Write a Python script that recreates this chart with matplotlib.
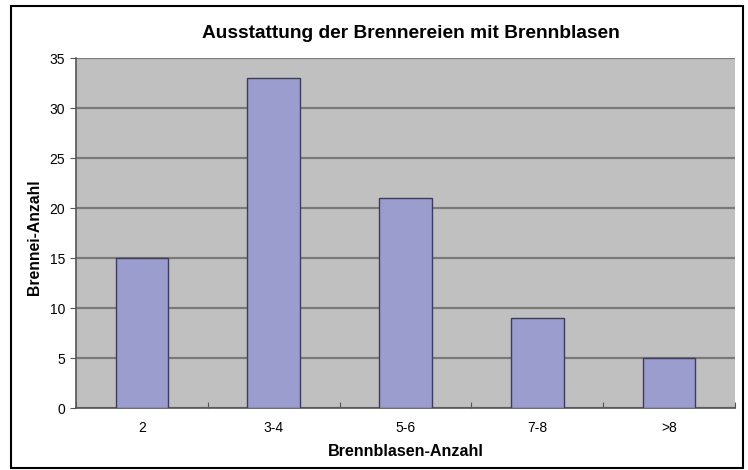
import matplotlib.pyplot as plt
from matplotlib.patches import Rectangle

plt.rcParams['font.family'] = ['Liberation Sans', 'DejaVu Sans']

categories = ['2', '3-4', '5-6', '7-8', '>8']
counts = [15, 33, 21, 9, 5]

W, H = 748, 470
fig = plt.figure(figsize=(W / 100, H / 100), dpi=100)
fig.patch.set_facecolor('white')
fig.patches.append(Rectangle((11 / W, 2 / H), 732 / W, 1 - 8 / H, transform=fig.transFigure,
                             fill=False, edgecolor='black', linewidth=1.5))

ax = fig.add_axes([76 / W, 1 - 408 / H, (735 - 76) / W, (408 - 58) / H])
ax.set_facecolor('#c0c0c0')
x = range(len(categories))
ax.bar(x, counts, width=0.4, color='#9b9dcf', edgecolor='#3c3c5c', linewidth=1, zorder=3)

ax.set_xlim(-0.5, len(categories) - 0.5)
ax.set_ylim(0, 35)
ax.set_yticks(range(0, 36, 5))
ax.yaxis.grid(True, color='#7a7a7a', linewidth=1.6, zorder=1)
ax.set_axisbelow(True)

# ticks between categories, labels centred under the bars
ax.set_xticks([i - 0.5 for i in range(len(categories) + 1)])
ax.set_xticklabels([''] * (len(categories) + 1))
ax.set_xticks(list(x), minor=True)
ax.set_xticklabels(categories, minor=True)
ax.tick_params(axis='x', which='minor', length=0, pad=9, labelsize=10)
ax.tick_params(axis='x', which='major', length=4, color='#555555', direction='in')
ax.tick_params(axis='y', length=4, color='#555555', labelsize=10, pad=4)

for s in ['top', 'right']:
    ax.spines[s].set_visible(False)
for s in ['left', 'bottom']:
    ax.spines[s].set_color('#555555')
    ax.spines[s].set_linewidth(1.2)

fig.text(411 / W, 1 - 33 / H, 'Ausstattung der Brennereien mit Brennblasen',
         ha='center', va='center', fontsize=13.8, fontweight='bold')
fig.text(406 / W, 1 - 452 / H, 'Brennblasen-Anzahl',
         ha='center', va='center', fontsize=11.6, fontweight='bold')
fig.text(35 / W, 1 - 237 / H, 'Brennei-Anzahl', rotation=90,
         ha='center', va='center', fontsize=11.3, fontweight='bold')

fig.savefig('out.png', dpi=100)
